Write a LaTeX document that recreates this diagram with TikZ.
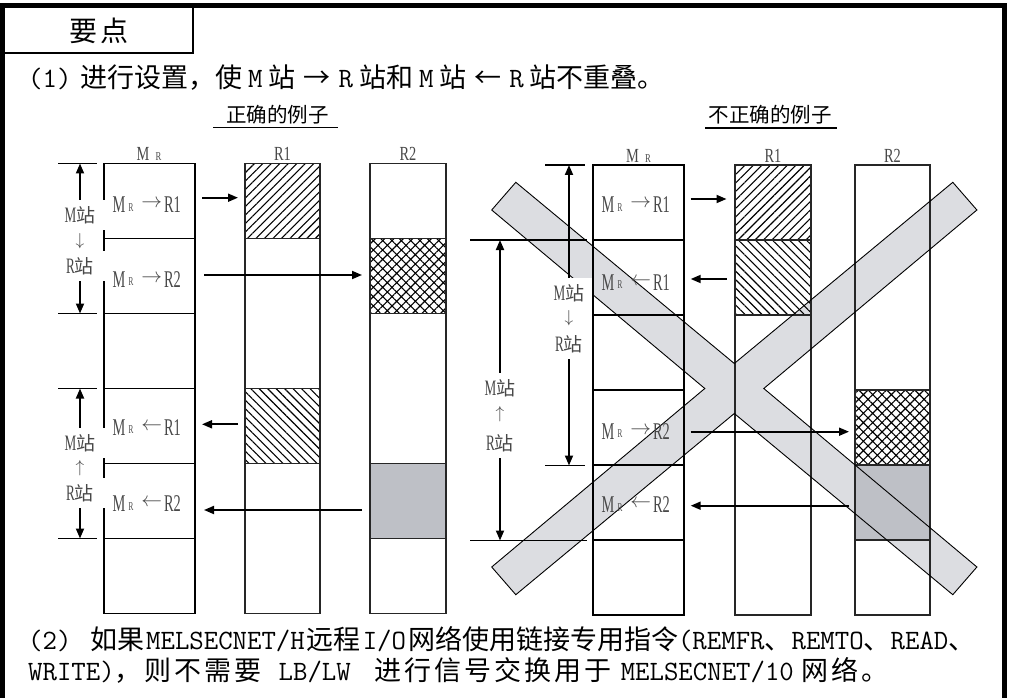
\documentclass[tikz,border=0pt]{standalone}
\usepackage{fontspec}
\setmainfont{Liberation Serif}
\newfontfamily\cjk{Noto Sans CJK SC}
\newfontfamily\cond[FakeStretch=0.6]{Liberation Serif}
\newfontfamily\hdrf[FakeStretch=0.72]{Liberation Serif}
\usetikzlibrary{arrows.meta,patterns.meta}
\definecolor{bandgray}{HTML}{DCDDE1}
\definecolor{cellgray}{HTML}{BEC0C6}
\definecolor{txtgray}{HTML}{484848}
\newcommand\zh[1]{{\cjk #1}}
\newcommand\mo[1]{{\ttfamily\fontsize{28}{32}\selectfont #1}}
\def\spaced#1{\ifx#1\relax\else#1\hspace{3pt}\expandafter\spaced\fi}
\newcommand\mlbl[2]{{\cond M}\hspace{3pt}\raisebox{1.5pt}{\fontsize{12}{12}\selectfont\cond R}\hspace{8pt}\raisebox{5pt}{\fontsize{20}{20}\selectfont$#1$}\hspace{2pt}{\cond R#2}}
\newcommand\dimM{{\cond M}\zh{\fontsize{19}{19}\selectfont 站}}
\newcommand\dimR{{\cond R}\zh{\fontsize{19}{19}\selectfont 站}}
\begin{document}
\begin{tikzpicture}[x=1pt,y=-1pt,
 mcol/.style={line width=1.7pt},
 rcol/.style={line width=1.4pt,draw=black!85},
 conn/.style={line width=1.8pt,-{Triangle[length=10pt,width=8pt]}},
 tickline/.style={line width=1.8pt},
 bodytxt/.style={inner sep=0pt,anchor=base west,font=\fontsize{27}{32}\selectfont},
 subtxt/.style={inner sep=0pt,anchor=base,font=\fontsize{20.5}{24}\selectfont},
 lbl/.style={inner sep=0pt,anchor=base west,text=txtgray,font=\fontsize{24}{26}\selectfont},
 colhdr/.style={inner sep=0pt,anchor=base,text=txtgray,font=\fontsize{20}{22}\selectfont\hdrf},
 dimbox/.style={fill=white,inner sep=0pt,minimum width=46pt,minimum height=30pt,text=txtgray,font=\fontsize{22}{24}\selectfont},
 dimarr/.style={inner sep=0pt,text=txtgray,font=\fontsize{17}{17}\selectfont},
 hatchNE/.style={pattern={Lines[angle=45,distance=6pt,line width=1.1pt]}},
 hatchNW/.style={pattern={Lines[angle=-45,distance=6pt,line width=1.1pt]}},
 hatchX/.style={pattern={Hatch[angle=45,distance=6.6pt,line width=1.1pt]}},
 bandline/.style={line width=0.9pt}
]
\useasboundingbox (0,0) rectangle (1010,698);

% frame and header
\draw[line width=5pt] (2.5,698) -- (2.5,5.5) -- (1004.5,5.5) -- (1004.5,698);
\draw[line width=2pt] (192.7,5.5) -- (192.7,52.7) -- (2.5,52.7);
\node[inner sep=0pt,anchor=base,font=\fontsize{28}{30}\selectfont] (yd) at (99,42) {\zh{要\hspace{3pt}点}};

% point (1)
\node[bodytxt] (p1a) at (28,88) {\mo{(1)}};
\node[bodytxt] (p1b) at (80,88) {\zh{进行设置，使}\hspace{6pt}\mo{M}\hspace{6pt}\zh{站}\hspace{8pt}\zh{→}\hspace{8pt}\mo{R}\hspace{6pt}\zh{站和}\hspace{6pt}\mo{M}\hspace{6pt}\zh{站}\hspace{8pt}\zh{←}\hspace{8pt}\mo{R}\hspace{6pt}\zh{站不重叠。}};

% subtitles
\node[subtxt] (tL) at (277.5,123) {\zh{正确的例子}};
\draw[line width=1.2pt] (213,127.5) -- (338,127.5);
\node[subtxt] (tR) at (770,123) {\zh{不正确的例子}};
\draw[line width=1.2pt] (705,128) -- (837,128);

% X band (background)
\coordinate (X1) at (515.8,182.3);
\coordinate (X2) at (734.3,363.5);
\coordinate (X3) at (952.8,182.3);
\coordinate (X4) at (976.9,210);
\coordinate (X5) at (763.8,388.5);
\coordinate (X6) at (976.9,567);
\coordinate (X7) at (952.8,594.7);
\coordinate (X8) at (734.3,413.5);
\coordinate (X9) at (515.8,594.7);
\coordinate (X10) at (491.7,567);
\coordinate (X11) at (704.8,388.5);
\coordinate (X12) at (491.7,210);
\fill[bandgray] (X1) -- (X2) -- (X3) -- (X4) -- (X5) -- (X6) -- (X7) -- (X8) -- (X9) -- (X10) -- (X11) -- (X12) -- cycle;

% ---------- left (correct) columns ----------
\draw[mcol] (104,163.5) rectangle (195,613.5);
\foreach \yy in {238.5,313.5,388.5,463.5,538.5} \draw[mcol] (104,\yy) -- (195,\yy);
\draw[rcol,hatchNE] (245,163.5) rectangle (320,238.5);
\draw[rcol,hatchNW] (245,388.5) rectangle (320,463.5);
\draw[rcol] (245,163.5) rectangle (320,613.5);
\draw[rcol,hatchX] (370,238.5) rectangle (446,313.5);
\draw[rcol,fill=cellgray] (370,463.5) rectangle (446,538.5);
\draw[rcol] (370,163.5) rectangle (446,613.5);

% ---------- right (incorrect) columns ----------
\draw[rcol,fill=cellgray] (855,465) rectangle (930,540);
\draw[mcol] (593,165) rectangle (684,615);
\foreach \yy in {240,315,390,465,540} \draw[mcol] (593,\yy) -- (684,\yy);
\draw[rcol,hatchNE] (735,165) rectangle (811,240);
\draw[rcol,hatchNW] (735,240) rectangle (811,315);
\draw[rcol] (735,165) rectangle (811,615);
\draw[rcol,hatchX] (855,390) rectangle (930,465);
\draw[rcol] (855,165) rectangle (930,615);

% X band outline
\draw[bandline] (X1) -- (X2) -- (X3) -- (X4) -- (X5) -- (X6) -- (X7) -- (X8) -- (X9) -- (X10) -- (X11) -- (X12) -- cycle;

% column headers
\node[colhdr] (hl0) at (149,161) {M\hspace{6pt}{\fontsize{12}{12}\selectfont R}};
\node[colhdr] (hl1) at (282.5,161) {R1};
\node[colhdr] (hl2) at (408,161) {R2};
\node[colhdr] (hr0) at (638.5,162.5) {M\hspace{6pt}{\fontsize{12}{12}\selectfont R}};
\node[colhdr] (hr1) at (773,162.5) {R1};
\node[colhdr] (hr2) at (892.5,162.5) {R2};

% labels inside M columns
\node[lbl] (ll1) at (112.5,212.5) {\mlbl{\rightarrow}{1}};
\node[lbl] (ll2) at (112.5,287.3) {\mlbl{\rightarrow}{2}};
\node[lbl] (ll3) at (112.5,435) {\mlbl{\leftarrow}{1}};
\node[lbl] (ll4) at (112.5,511.7) {\mlbl{\leftarrow}{2}};
\node[lbl] (rl1) at (601.5,212.5) {\mlbl{\rightarrow}{1}};
\node[lbl] (rl2) at (601.5,290) {\mlbl{\leftarrow}{1}};
\node[lbl] (rl3) at (601.5,439.3) {\mlbl{\rightarrow}{2}};
\node[lbl] (rl4) at (601.5,512.7) {\mlbl{\leftarrow}{2}};

% transfer arrows
\coordinate (la1s) at (202,197.7); \coordinate (la1e) at (238,197.7);
\coordinate (la2s) at (204,275);   \coordinate (la2e) at (362,275);
\coordinate (la3s) at (238,424.3); \coordinate (la3e) at (202,424.3);
\coordinate (la4s) at (362,510);   \coordinate (la4e) at (204,510);
\draw[conn] (la1s) -- (la1e);
\draw[conn] (la2s) -- (la2e);
\draw[conn] (la3s) -- (la3e);
\draw[conn] (la4s) -- (la4e);
\coordinate (ra1s) at (690.7,199);   \coordinate (ra1e) at (726.5,199);
\coordinate (ra2s) at (726.5,279);   \coordinate (ra2e) at (690.7,279);
\coordinate (ra3s) at (690.7,431.7); \coordinate (ra3e) at (849,431.7);
\coordinate (ra4s) at (849,505.7);   \coordinate (ra4e) at (690.7,505.7);
\draw[conn] (ra1s) -- (ra1e);
\draw[conn] (ra2s) -- (ra2e);
\draw[conn] (ra3s) -- (ra3e);
\draw[conn] (ra4s) -- (ra4e);

% dimension marks, left
\draw[tickline] (58,163.5) -- (97,163.5);
\draw[tickline] (58,313.5) -- (97,313.5);
\draw[tickline] (58,388.5) -- (97,388.5);
\draw[tickline] (58,538.5) -- (97,538.5);
\coordinate (ld1t) at (80,163.5); \coordinate (ld1b) at (80,313.5);
\coordinate (ld2t) at (80,388.5); \coordinate (ld2b) at (80,538.5);
\node[dimbox,minimum width=52pt] (ld1m) at (80,215) {\dimM};
\node[dimarr] (ld1a) at (80,241) {$\downarrow$};
\node[dimbox,minimum width=52pt] (ld1r) at (80,266) {\dimR};
\node[dimbox,minimum width=52pt] (ld2m) at (80,443) {\dimM};
\node[dimarr] (ld2a) at (80,468) {$\uparrow$};
\node[dimbox,minimum width=52pt] (ld2r) at (80,493) {\dimR};
\draw[conn] (ld1m.north) -- (ld1t);
\draw[conn] (ld1r.south) -- (ld1b);
\draw[conn] (ld2m.north) -- (ld2t);
\draw[conn] (ld2r.south) -- (ld2b);

% dimension marks, right
\draw[tickline] (545,165) -- (585,165);
\draw[tickline] (545,465.5) -- (585,465.5);
\draw[tickline] (470,240) -- (587,240);
\draw[tickline] (470,540.5) -- (587,540.5);
\coordinate (rd1t) at (569,165); \coordinate (rd1b) at (569,465.5);
\coordinate (rd2t) at (500,240); \coordinate (rd2b) at (500,540.5);
\node[dimbox] (rd1m) at (569,293) {\dimM};
\node[dimarr] (rd1a) at (569,318.5) {$\downarrow$};
\node[dimbox] (rd1r) at (569,344) {\dimR};
\node[dimbox] (rd2m) at (500,388) {\dimM};
\node[dimarr] (rd2a) at (500,414) {$\uparrow$};
\node[dimbox] (rd2r) at (500,443) {\dimR};
\draw[conn] (rd1m.north) -- (rd1t);
\draw[conn] (rd1r.south) -- (rd1b);
\draw[conn] (rd2m.north) -- (rd2t);
\draw[conn] (rd2r.south) -- (rd2b);

% point (2)
\node[bodytxt] (p2a) at (28,649) {\mo{(2)}};
\node[bodytxt] (p2b) at (90,649) {\zh{如果}\hspace{2pt}\mo{MELSECNET/H}\hspace{2pt}\zh{远程}\hspace{2pt}\mo{I/O}\hspace{2pt}\zh{网络使用链接专用指令}\mo{(REMFR}\zh{、}\mo{REMTO}\zh{、}\mo{READ}\zh{、}};
\node[bodytxt] (p2c) at (28,680) {\mo{WRITE)}\zh{\spaced ，则不需要\relax}\hspace{14pt}\mo{LB/LW}\hspace{24pt}\zh{\spaced 进行信号交换用于\relax}\hspace{6pt}\mo{MELSECNET/10}\hspace{8pt}\zh{\spaced 网络。\relax}};
\end{tikzpicture}
\end{document}
